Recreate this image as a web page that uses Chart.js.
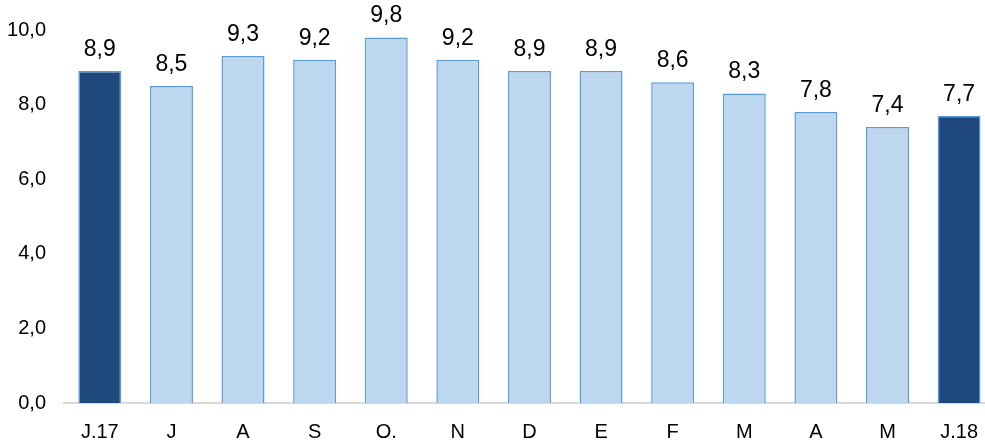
<!DOCTYPE html>
<html>
<head>
<meta charset="utf-8">
<script src="https://cdn.jsdelivr.net/npm/chart.js@4/dist/chart.umd.min.js"></script>
<style>
  html, body { margin: 0; padding: 0; background: #fff; overflow: hidden; }
  #wrap { width: 985px; height: 441px; overflow: hidden; }
</style>
</head>
<body>
<div id="wrap"><canvas id="chart" width="995" height="441"></canvas></div>
<script>
const months = ["J.17", "J", "A", "S", "O.", "N", "D", "E", "F", "M", "A", "M", "J.18"];
const rates = [8.9, 8.5, 9.3, 9.2, 9.8, 9.2, 8.9, 8.9, 8.6, 8.3, 7.8, 7.4, 7.7];
const highlighted = [0, 12];

const fmt = v => v.toFixed(1).replace(".", ",");

const valueLabels = {
  id: "valueLabels",
  afterDatasetsDraw(chart) {
    const ctx = chart.ctx;
    const meta = chart.getDatasetMeta(0);
    ctx.save();
    ctx.font = "23px 'Liberation Sans', Arial, sans-serif";
    ctx.fillStyle = "#000";
    ctx.textAlign = "center";
    ctx.textBaseline = "alphabetic";
    meta.data.forEach((bar, i) => {
      ctx.fillText(fmt(rates[i]), bar.x, bar.y - 15);
    });
    ctx.restore();
  }
};

new Chart(document.getElementById("chart"), {
  type: "bar",
  data: {
    labels: months,
    datasets: [{
      data: rates,
      backgroundColor: months.map((m, i) => highlighted.includes(i) ? "#1F497D" : "#BDD7EE"),
      borderColor: "#5B9BD5",
      borderWidth: 1.5,
      categoryPercentage: 1,
      barPercentage: 0.6
    }]
  },
  options: {
    responsive: false,
    animation: false,
    layout: { padding: { top: 28, right: 0, left: 0, bottom: 0 } },
    plugins: { legend: { display: false }, tooltip: { enabled: false } },
    scales: {
      x: {
        grid: { display: false, drawTicks: false },
        border: { color: "#D9D9D9", width: 2 },
        ticks: {
          color: "#000",
          padding: 17,
          font: { family: "'Liberation Sans', Arial, sans-serif", size: 20 }
        },
        afterFit(scale) { scale.height = 38; }
      },
      y: {
        min: 0,
        max: 10,
        grid: { display: false, drawTicks: false },
        border: { display: false },
        ticks: {
          stepSize: 2,
          color: "#000",
          padding: 18,
          font: { family: "'Liberation Sans', Arial, sans-serif", size: 20 },
          callback: v => fmt(v)
        },
        afterFit(scale) { scale.width = 64; }
      }
    }
  },
  plugins: [valueLabels]
});
</script>
</body>
</html>
